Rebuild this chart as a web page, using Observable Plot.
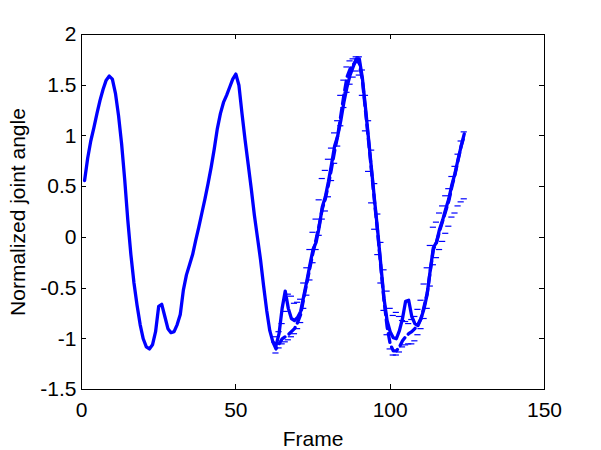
<!DOCTYPE html>
<html>
<head>
<meta charset="utf-8">
<script src="https://cdn.jsdelivr.net/npm/d3@7"></script>
<script src="https://cdn.jsdelivr.net/npm/@observablehq/plot@0.6"></script>
<style>
  html, body { margin: 0; padding: 0; background: #fff; }
  #chart { width: 601px; height: 450px; }
</style>
</head>
<body>
<div id="chart"></div>
<script>
// ---- data ----
const trueFrames = [1,2,3,4,5,6,7,8,9,10,11,12,13,14,15,16,17,18,19,20,21,22,23,24,25,26,27,28,29,30,31,32,33,34,35,36,37,38,39,40,41,42,43,44,45,46,47,48,49,50,51,52,53,54,55,56,57,58,59,60,61,62,63,64,65,66,67,68,69,70,71,72,73,74,75,76,77,78,79,80,81,82,83,84,85,86,87,88,89,90,91,92,93,94,95,96,97,98,99,100,101,102,103,104,105,106,107,108,109,110,111,112,113,114,115,116,117,118,119,120,121,122,123,124];
const trueValues = [0.56,0.78,0.95,1.08,1.22,1.35,1.46,1.55,1.59,1.56,1.42,1.20,0.92,0.57,0.17,-0.17,-0.45,-0.67,-0.86,-1.00,-1.08,-1.10,-1.06,-0.93,-0.68,-0.66,-0.78,-0.90,-0.94,-0.93,-0.86,-0.76,-0.52,-0.37,-0.27,-0.17,-0.03,0.10,0.24,0.38,0.53,0.69,0.87,1.07,1.22,1.33,1.40,1.48,1.56,1.61,1.50,1.22,0.96,0.72,0.48,0.22,0.00,-0.22,-0.48,-0.72,-0.92,-1.03,-1.07,-0.95,-0.70,-0.53,-0.70,-0.80,-0.82,-0.79,-0.73,-0.58,-0.43,-0.27,-0.12,-0.05,0.10,0.30,0.40,0.55,0.72,0.90,1.00,1.15,1.33,1.48,1.60,1.68,1.76,1.76,1.57,1.28,0.97,0.66,0.35,0.05,-0.28,-0.60,-0.82,-0.93,-0.99,-1.00,-0.92,-0.80,-0.63,-0.62,-0.78,-0.85,-0.87,-0.80,-0.70,-0.56,-0.32,-0.10,-0.05,0.08,0.17,0.28,0.38,0.52,0.63,0.77,0.90,1.02];

const predFrames = [62,63,64,65,66,67,68,69,70,71,72,73,74,75,76,77,78,79,80,81,82,83,84,85,86,87,88,89,90,91,92,93,94,95,96,97,98,99,100,101,102,103,104,105,106,107,108,109,110,111,112,113,114,115,116,117,118,119,120,121,122,123,124];
const predValues = [-1.03,-1.10,-1.05,-1.00,-0.98,-0.96,-0.93,-0.90,-0.84,-0.76,-0.60,-0.45,-0.30,-0.15,-0.02,0.12,0.28,0.38,0.52,0.68,0.85,1.00,1.20,1.40,1.58,1.66,1.70,1.74,1.72,1.55,1.25,0.95,0.64,0.33,0.03,-0.30,-0.62,-0.88,-1.05,-1.12,-1.12,-1.08,-1.02,-0.98,-0.95,-0.93,-0.90,-0.86,-0.80,-0.68,-0.55,-0.33,-0.12,-0.05,0.06,0.16,0.26,0.36,0.50,0.62,0.76,0.90,1.00];
// distance of the upper / lower error-bar caps from the dashed line (frames 63..124)
const errFrames = [63,64,65,66,67,68,69,70,71,72,73,74,75,76,77,78,79,80,81,82,83,84,85,86,87,88,89,90,91,92,93,94,95,96,97,98,99,100,101,102,103,104,105,106,107,108,109,110,111,112,113,114,115,116,117,118,119,120,121,122,123,124];
const errUpper = [0.12,0.12,0.15,0.25,0.40,0.35,0.25,0.20,0.15,0.15,0.15,0.18,0.20,0.20,0.25,0.30,0.28,0.25,0.20,0.18,0.15,0.20,0.15,0.10,0.08,0.06,0.04,0.06,0.10,0.15,0.20,0.22,0.20,0.20,0.25,0.30,0.35,0.35,0.35,0.38,0.30,0.20,0.15,0.10,0.12,0.12,0.15,0.18,0.22,0.25,0.25,0.22,0.20,0.18,0.15,0.15,0.12,0.10,0.08,0.06,0.05,0.04];
const errLower = [0.04,0.04,0.05,0.05,0.05,0.05,0.05,0.06,0.08,0.10,0.12,0.12,0.10,0.10,0.10,0.10,0.12,0.12,0.12,0.12,0.10,0.10,0.12,0.15,0.15,0.12,0.10,0.12,0.15,0.20,0.30,0.30,0.25,0.20,0.15,0.10,0.08,0.05,0.04,0.04,0.05,0.06,0.08,0.10,0.12,0.12,0.10,0.10,0.12,0.15,0.15,0.15,0.15,0.18,0.20,0.22,0.25,0.30,0.38,0.45,0.55,0.62];

const xTicks = [0, 50, 100, 150];
const xTickLabels = ["0", "50", "100", "150"];
const yTicks = [-1.5, -1, -0.5, 0, 0.5, 1, 1.5, 2];
const yTickLabels = ["-1.5", "-1", "-0.5", "0", "0.5", "1", "1.5", "2"];
const xLabel = "Frame";
const yLabel = "Normalized joint angle";

// ---- tables built from the arrays ----
const trueData = trueFrames.map((f, i) => ({frame: f, value: trueValues[i]}));
const predData = predFrames.map((f, i) => ({frame: f, value: predValues[i]}));
const predByFrame = new Map(predData.map(d => [d.frame, d.value]));
const caps = errFrames.flatMap((f, i) => [
  {frame: f, value: predByFrame.get(f) + errUpper[i]},
  {frame: f, value: predByFrame.get(f) - errLower[i]}
]);

// inward MATLAB-style ticks on all four sides, positioned by Plot's scales
function inwardTicks(index, scales, values, dims) {
  const {x, y} = scales;
  const L = 5;
  const left = dims.marginLeft, right = dims.width - dims.marginRight;
  const top = dims.marginTop, bottom = dims.height - dims.marginBottom;
  const g = d3.create("svg:g").attr("stroke", "black").attr("stroke-width", 1).attr("shape-rendering", "crispEdges");
  for (const t of xTicks) {
    const px = Math.round(x(t)) + 0.5;
    g.append("line").attr("x1", px).attr("x2", px).attr("y1", bottom).attr("y2", bottom - L);
    g.append("line").attr("x1", px).attr("x2", px).attr("y1", top).attr("y2", top + L);
  }
  for (const t of yTicks) {
    const py = Math.round(y(t)) + 0.5;
    g.append("line").attr("x1", left).attr("x2", left + L).attr("y1", py).attr("y2", py);
    g.append("line").attr("x1", right).attr("x2", right - L).attr("y1", py).attr("y2", py);
  }
  return g.node();
}

const chart = Plot.plot({
  width: 601,
  height: 450,
  marginLeft: 81,
  marginRight: 57,
  marginTop: 34,
  marginBottom: 61,
  style: {fontFamily: "'Liberation Sans', Arial, Helvetica, sans-serif", fontSize: "21px", background: "#fff", color: "#000"},
  x: {domain: [0, 150]},
  y: {domain: [-1.5, 2]},
  marks: [
    Plot.axisX({ticks: xTicks, tickFormat: (d, i) => xTickLabels[i], tickSize: 0, tickPadding: 13, label: null, fill: "#000"}),
    Plot.axisY({ticks: yTicks, tickFormat: (d, i) => yTickLabels[i], tickSize: 0, tickPadding: 5, label: null, fill: "#000"}),
    Plot.ruleY(caps, {y: "value", x1: d => d.frame - 1, x2: d => d.frame + 1, stroke: "#0000ff", strokeWidth: 1.2}),
    Plot.line(predData, {x: "frame", y: "value", stroke: "#0000ff", strokeWidth: 3.3, strokeDasharray: "9,5"}),
    Plot.line(trueData, {x: "frame", y: "value", stroke: "#0000ff", strokeWidth: 3.3}),
    Plot.frame({stroke: "#000", strokeWidth: 1}),
    inwardTicks,
    Plot.text([xLabel], {frameAnchor: "bottom", dy: 50, lineAnchor: "middle", textAnchor: "middle", fill: "#000"}),
    Plot.text([yLabel], {frameAnchor: "left", dx: -63, rotate: -90, lineAnchor: "middle", textAnchor: "middle", fill: "#000"})
  ]
});
document.getElementById("chart").appendChild(chart);
</script>
</body>
</html>
